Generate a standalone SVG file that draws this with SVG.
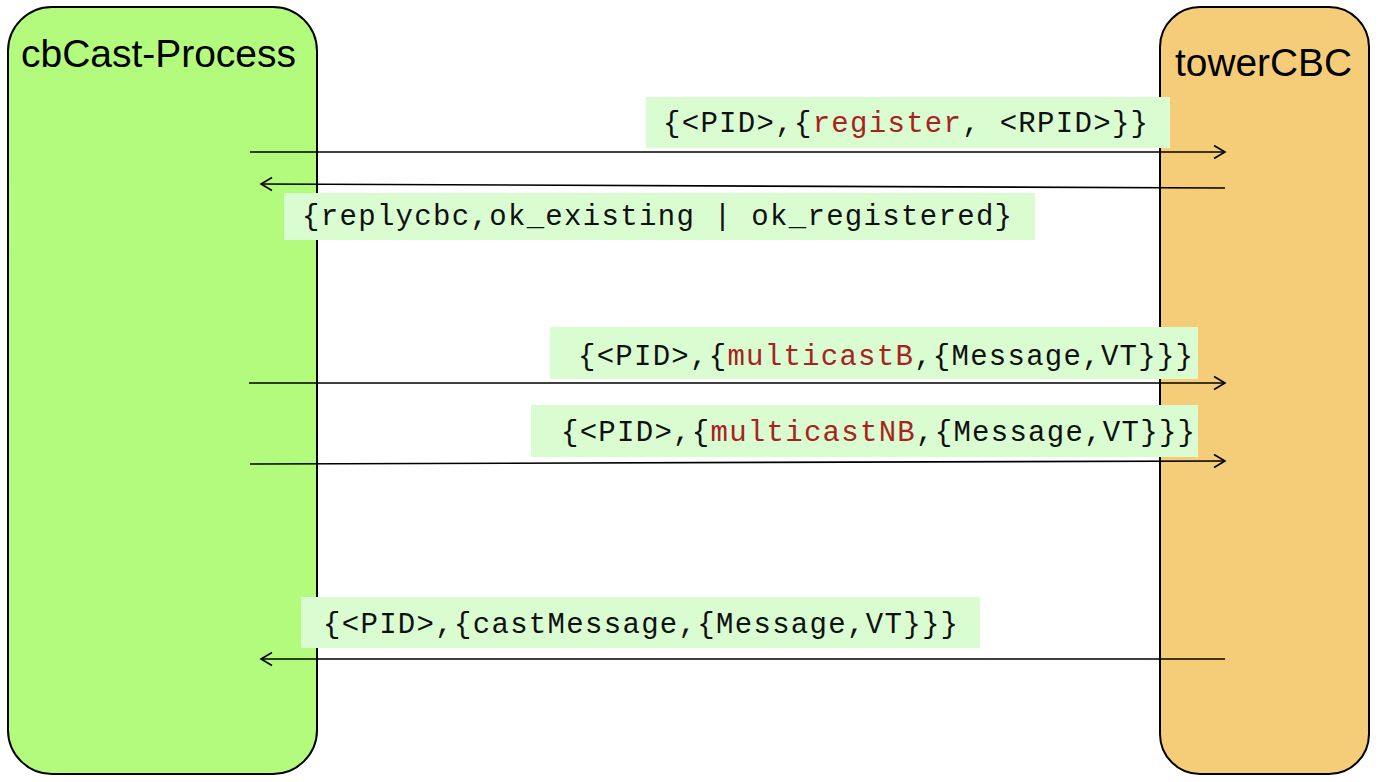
<svg xmlns="http://www.w3.org/2000/svg" width="1382" height="782" viewBox="0 0 1382 782">
<defs>
<style>
.title{font-family:"Liberation Sans",Arial,sans-serif;font-size:38px;fill:#000}
.lbl{fill:#d9fcd1}
.msg{font-family:"Liberation Mono","Courier New",monospace;font-size:29px;fill:#111}
.kw{fill:#a8231f}
.conn{stroke:#000;stroke-width:1.6;fill:none}
</style>
<marker id="arr" markerUnits="userSpaceOnUse" markerWidth="16" markerHeight="16" viewBox="0 0 16 16" refX="14" refY="8" orient="auto">
<path d="M3,1.5 L14,8 L3,14.5" fill="none" stroke="#000" stroke-width="1.6"/>
</marker>
</defs>
<rect width="1382" height="782" fill="#fff"/>
<g id="cbcast-process">
<rect x="8" y="7" width="309" height="767" rx="44" ry="44" fill="#b3fb7d" stroke="#000" stroke-width="2"/>
<text class="title" x="21" y="67" textLength="275" lengthAdjust="spacingAndGlyphs">cbCast-Process</text>
</g>
<g id="towercbc">
<rect x="1160" y="7" width="209" height="767" rx="40" ry="40" fill="#f5cd78" stroke="#000" stroke-width="2"/>
<text class="title" x="1175" y="76" textLength="177" lengthAdjust="spacingAndGlyphs">towerCBC</text>
</g>
<g id="labels">
<g id="label-register">
<rect class="lbl" x="646" y="97" width="524" height="51"/>
<text class="msg" x="663" y="132" textLength="485">{&lt;PID&gt;,{<tspan class="kw">register</tspan>, &lt;RPID&gt;}}</text>
</g>
<g id="label-reply">
<rect class="lbl" x="284" y="193" width="751" height="47"/>
<text class="msg" x="302" y="225" textLength="710">{replycbc,ok_existing | ok_registered}</text>
</g>
<g id="label-multicastB">
<rect class="lbl" x="550" y="327" width="648" height="52"/>
<text class="msg" x="578" y="365" textLength="615">{&lt;PID&gt;,{<tspan class="kw">multicastB</tspan>,{Message,VT}}}</text>
</g>
<g id="label-multicastNB">
<rect class="lbl" x="531" y="405" width="667" height="52"/>
<text class="msg" x="561" y="441" textLength="634">{&lt;PID&gt;,{<tspan class="kw">multicastNB</tspan>,{Message,VT}}}</text>
</g>
<g id="label-castMessage">
<rect class="lbl" x="301" y="597" width="679" height="51"/>
<text class="msg" x="323" y="633" textLength="635">{&lt;PID&gt;,{castMessage,{Message,VT}}}</text>
</g>
</g>
<g id="connectors">
<line class="conn" x1="250" y1="152" x2="1225" y2="152" marker-end="url(#arr)"/>
<line class="conn" x1="1225" y1="188" x2="261" y2="184" marker-end="url(#arr)"/>
<line class="conn" x1="249" y1="383" x2="1225" y2="383" marker-end="url(#arr)"/>
<line class="conn" x1="250" y1="464" x2="1225" y2="461" marker-end="url(#arr)"/>
<line class="conn" x1="1225" y1="659" x2="261" y2="659" marker-end="url(#arr)"/>
</g>
</svg>
